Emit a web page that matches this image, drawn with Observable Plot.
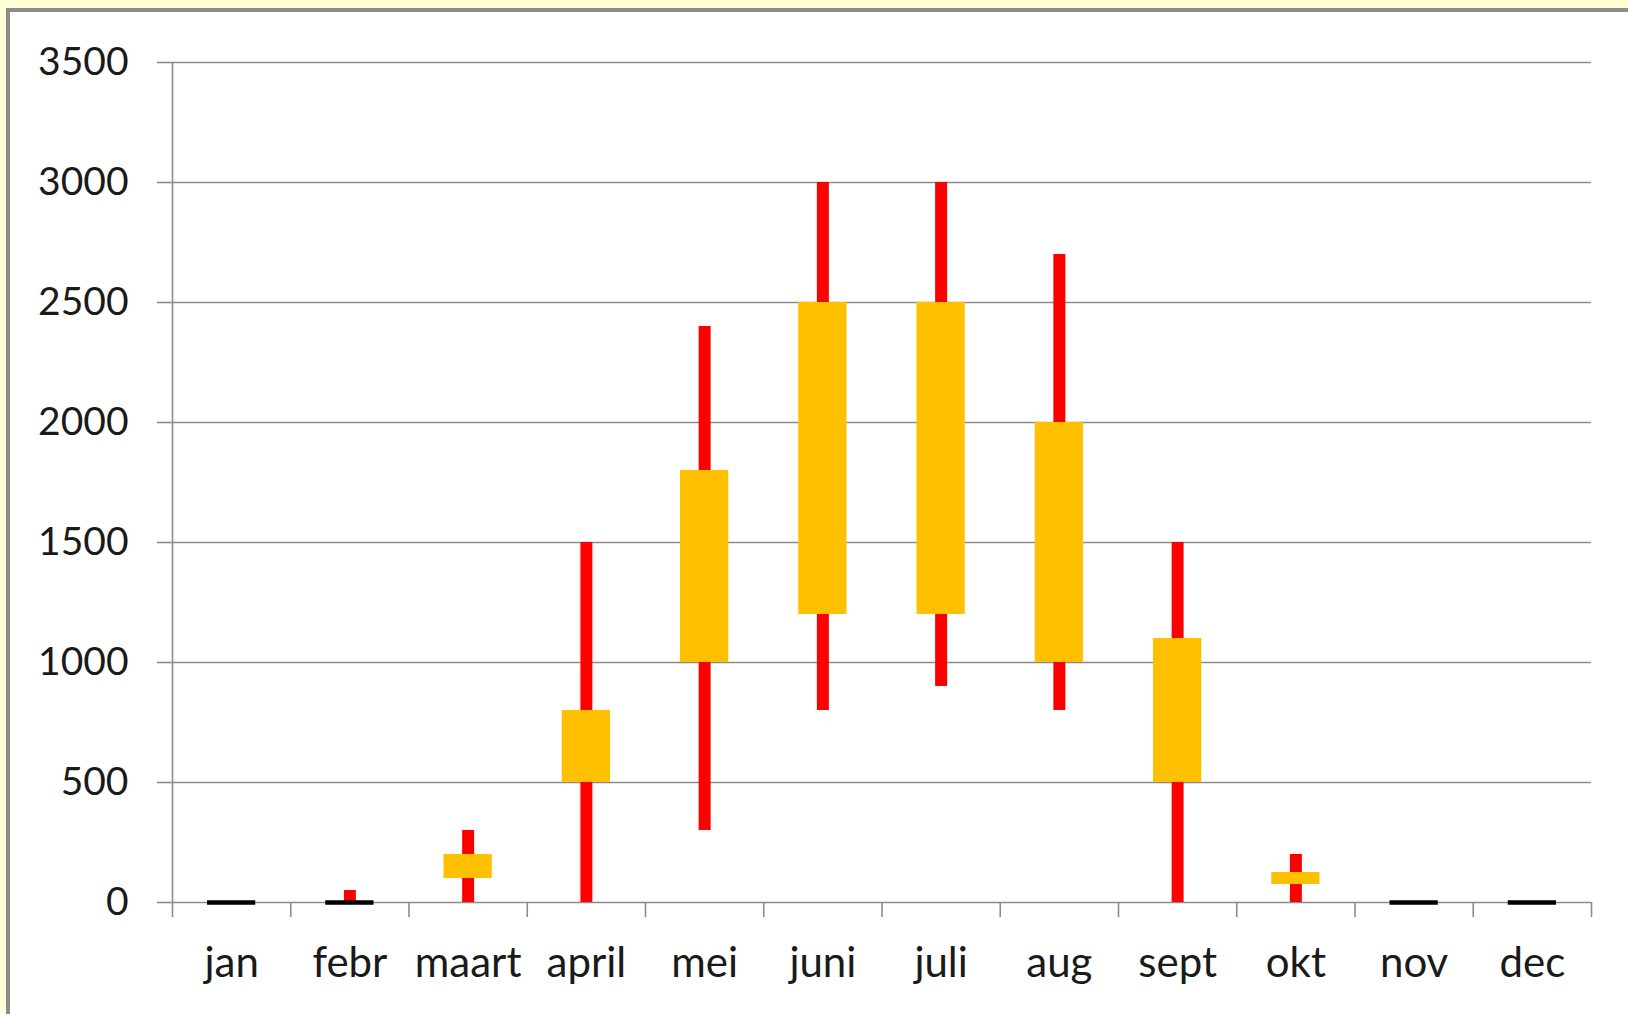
<!DOCTYPE html>
<html>
<head>
<meta charset="utf-8">
<script src="https://cdn.jsdelivr.net/npm/d3@7"></script>
<script src="https://cdn.jsdelivr.net/npm/@observablehq/plot@0.6"></script>
<style>
  html, body { margin: 0; padding: 0; background: #ffffd6; width: 1628px; height: 1014px; overflow: hidden; }
  #frame { position: absolute; left: 6px; top: 8px; border-left: 4px solid #8c8c8c; border-top: 4px solid #8c8c8c; background: #ffffff; width: 1618px; height: 1002px; }
  #frame svg { display: block; }
</style>
</head>
<body>
<div id="frame"></div>
<script>
const months = ["jan", "febr", "maart", "april", "mei", "juni", "juli", "aug", "sept", "okt", "nov", "dec"];
const low    = [0, 0,   0,   0,    300,  800,  900,  800,  0,    0,   0, 0];
const high   = [0, 50,  300, 1500, 2400, 3000, 3000, 2700, 1500, 200, 0, 0];
const q1     = [0, 0,   100, 500,  1000, 1200, 1200, 1000, 500,  75,  0, 0];
const q3     = [0, 0,   200, 800,  1800, 2500, 2500, 2000, 1100, 125, 0, 0];
const yTicks = [0, 500, 1000, 1500, 2000, 2500, 3000, 3500];

const data = months.map((m, i) => ({month: m, i, low: low[i], high: high[i], q1: q1[i], q3: q3[i]}));
const boundaries = d3.range(months.length + 1);
const centers = months.map((m, i) => i + 0.5);

const grid = "#8c8c8c";
const font = "Lato, 'Open Sans', sans-serif";

const chart = Plot.plot({
  width: 1618,
  height: 1002,
  marginLeft: 162,
  marginRight: 37,
  marginTop: 50,
  marginBottom: 112,
  style: {fontFamily: font, background: "white", color: "#1a1a1a"},
  x: {domain: [0, months.length]},
  y: {domain: [0, 3500]},
  marks: [
    Plot.gridY(yTicks, {stroke: grid, strokeOpacity: 1, strokeWidth: 1.6}),
    Plot.axisY(yTicks, {tickSize: 15, tickPadding: 29, stroke: grid, strokeWidth: 1.6, fontSize: 39, fill: "#1a1a1a", label: null, tickFormat: d => String(d)}),
    Plot.axisX(boundaries, {tickSize: 15, stroke: grid, strokeWidth: 1.6, tickFormat: () => "", label: null}),
    Plot.axisX(centers, {tickSize: 0, tickPadding: 45, fontSize: 42, fill: "#1a1a1a", label: null, tickFormat: v => months[Math.floor(v)]}),
    Plot.ruleX([0], {stroke: grid, strokeWidth: 1.6}),
    Plot.ruleX(data.filter(d => d.high > d.low), {x: d => d.i + 0.5, y1: "low", y2: "high", stroke: "#ff0000", strokeWidth: 12}),
    Plot.rectY(data.filter(d => d.q3 > d.q1), {x1: "i", x2: d => d.i + 1, y1: "q1", y2: "q3", fill: "#ffc000", insetLeft: 35, insetRight: 35}),
    Plot.ruleY(data.filter(d => d.q3 === d.q1), {y: "q1", x1: "i", x2: d => d.i + 1, stroke: "#000000", strokeWidth: 4.5, insetLeft: 35, insetRight: 35})
  ]
});
document.getElementById("frame").appendChild(chart);
</script>
</body>
</html>
